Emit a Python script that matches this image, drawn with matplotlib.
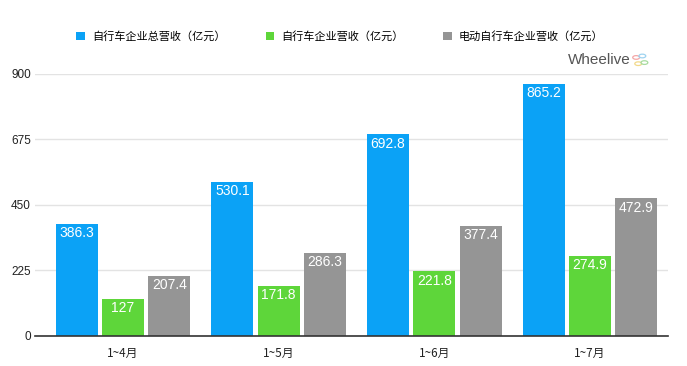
import matplotlib
matplotlib.use("Agg")
import matplotlib.pyplot as plt
import matplotlib.patches as mpatches
import numpy as np

plt.rcParams["font.family"] = ["Noto Sans CJK SC", "DejaVu Sans"]

periods = ["1~4月", "1~5月", "1~6月", "1~7月"]
series_names = ["自行车企业总营收（亿元）", "自行车企业营收（亿元）", "电动自行车企业营收（亿元）"]
total_rev = [386.3, 530.1, 692.8, 865.2]
bike_rev = [127, 171.8, 221.8, 274.9]
ebike_rev = [207.4, 286.3, 377.4, 472.9]
yticks = [0, 225, 450, 675, 900]

COLORS = ["#0BA2F6", "#5ED63A", "#959595"]

fig = plt.figure(figsize=(6.87, 3.66), dpi=100)
ax = fig.add_axes([0.051, 0.082, 0.921, 0.716])

x = np.arange(len(periods))
w = 0.27
off = 0.297
handles = []
for i, (vals, col, name) in enumerate(zip([total_rev, bike_rev, ebike_rev], COLORS, series_names)):
    bars = ax.bar(x + (i - 1) * off, vals, w, color=col, zorder=3, label=name)
    handles.append(bars)
    for b, v in zip(bars, vals):
        ax.text(b.get_x() + b.get_width() / 2, v - 8, f"{v:g}",
                ha="center", va="top", color="white", fontsize=10, zorder=4,
                family=["Liberation Sans", "DejaVu Sans"])

ax.set_xlim(-0.565, 3.5)
ax.set_ylim(0, 900)
ax.set_yticks(yticks)
ax.set_yticklabels([str(t) for t in yticks], fontsize=8.5, color="#222222",
                   family=["Liberation Sans", "DejaVu Sans"])
ax.set_xticks(x)
ax.set_xticklabels(periods, fontsize=8.5, color="#222222")
ax.tick_params(axis="x", length=0, pad=8)
ax.tick_params(axis="y", length=0, pad=3)
for s in ["top", "right", "left"]:
    ax.spines[s].set_visible(False)
ax.spines["bottom"].set_color("#333333")
ax.spines["bottom"].set_linewidth(1.2)
ax.spines["bottom"].set_zorder(5)
ax.grid(axis="y", color="#e3e3e3", linewidth=1, zorder=0)
ax.set_axisbelow(True)

fig.legend(handles=handles, loc="center", bbox_to_anchor=(0.495, 0.9), ncol=3,
           frameon=False, fontsize=8, handlelength=0.8, handleheight=0.8,
           columnspacing=3.6, handletextpad=0.6)

# watermark
fig.text(0.918, 0.835, "Wheelive", ha="right", va="center", fontsize=11,
         color="#555555", family=["Liberation Sans", "DejaVu Sans"])
for (cx, cy, c) in [(0.926, 0.843, "#f4a6a6"), (0.935, 0.847, "#9ed3f0"),
                    (0.929, 0.826, "#f2d98a"), (0.938, 0.829, "#a8dca0")]:
    fig.patches.append(mpatches.Circle((cx, cy), 0.005, transform=fig.transFigure,
                                       fill=False, edgecolor=c, linewidth=0.9))

fig.savefig("out.png", dpi=100)
